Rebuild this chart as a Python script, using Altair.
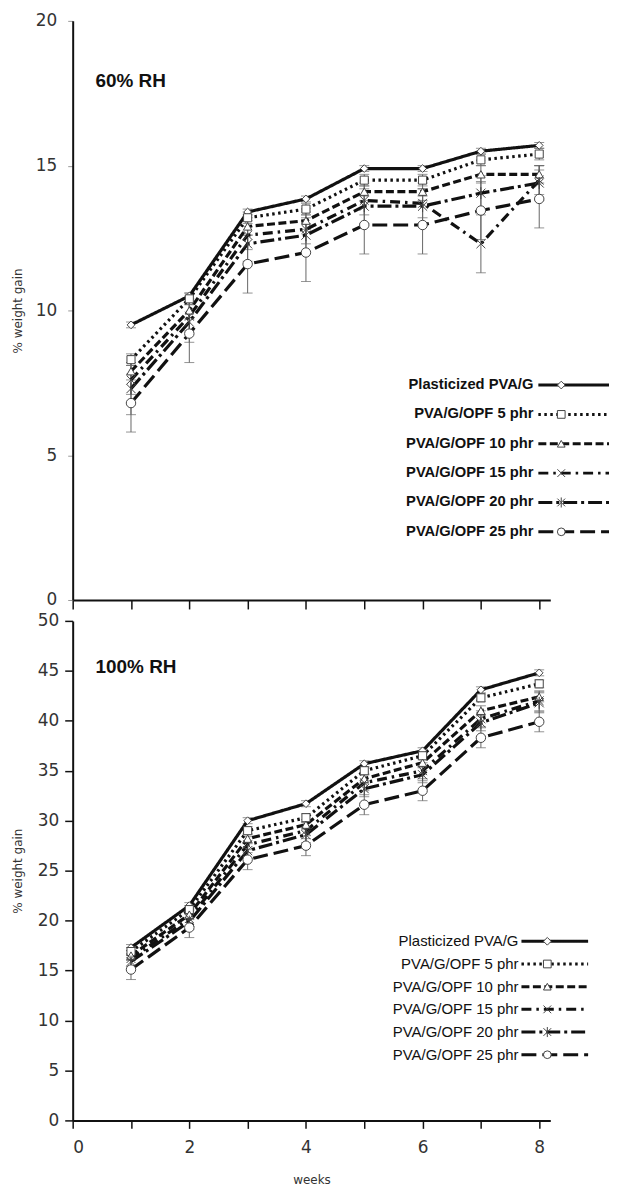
import altair as alt
import pandas as pd

weeks = [1, 2, 3, 4, 5, 6, 7, 8]
series = ["Plasticized PVA/G", "PVA/G/OPF 5 phr", "PVA/G/OPF 10 phr",
          "PVA/G/OPF 15 phr", "PVA/G/OPF 20 phr", "PVA/G/OPF 25 phr"]

# ---- 60% RH (% weight gain) ----
rh60_plast = [9.5, 10.5, 13.4, 13.85, 14.9, 14.9, 15.5, 15.7]
rh60_p5 = [8.3, 10.4, 13.2, 13.5, 14.5, 14.5, 15.2, 15.4]
rh60_p10 = [7.9, 10.0, 12.9, 13.1, 14.1, 14.1, 14.7, 14.7]
rh60_p15 = [7.6, 9.8, 12.6, 12.8, 13.8, 13.7, 12.3, 14.5]
rh60_p20 = [7.3, 9.6, 12.3, 12.6, 13.6, 13.6, 14.05, 14.4]
rh60_p25 = [6.8, 9.2, 11.6, 12.0, 12.95, 12.95, 13.45, 13.85]
rh60_err_plast = [0.1, 0.1, 0.1, 0.1, 0.1, 0.1, 0.1, 0.1]
rh60_err_p5 = [0.2, 0.2, 0.2, 0.2, 0.2, 0.2, 0.2, 0.2]
rh60_err_p10 = [0.3, 0.3, 0.3, 0.3, 0.3, 0.3, 0.3, 0.3]
rh60_err_p15 = [0.5, 0.5, 0.5, 0.5, 0.5, 0.5, 1.0, 0.5]
rh60_err_p20 = [0.9, 0.7, 0.6, 0.6, 0.6, 0.6, 0.6, 0.6]
rh60_err_p25 = [1.0, 1.0, 1.0, 1.0, 1.0, 1.0, 1.0, 1.0]

# ---- 100% RH (% weight gain) ----
rh100_plast = [17.3, 21.5, 30.0, 31.7, 35.7, 37.0, 43.1, 44.8]
rh100_p5 = [16.9, 21.1, 29.0, 30.3, 35.0, 36.5, 42.3, 43.7]
rh100_p10 = [16.5, 20.6, 28.2, 29.6, 34.2, 35.8, 41.0, 42.4]
rh100_p15 = [16.2, 20.2, 27.6, 29.0, 33.8, 35.0, 40.2, 42.0]
rh100_p20 = [15.9, 19.9, 27.0, 28.6, 33.2, 34.6, 39.8, 41.8]
rh100_p25 = [15.1, 19.3, 26.1, 27.5, 31.6, 33.0, 38.3, 39.9]
rh100_err_plast = [0.3, 0.3, 0.3, 0.3, 0.3, 0.3, 0.3, 0.3]
rh100_err_p5 = [0.4, 0.4, 0.4, 0.4, 0.4, 0.4, 0.4, 0.4]
rh100_err_p10 = [0.5, 0.5, 0.5, 0.5, 0.5, 0.5, 0.5, 0.5]
rh100_err_p15 = [0.8, 0.8, 0.8, 0.8, 0.8, 0.8, 0.8, 1.0]
rh100_err_p20 = [0.8, 0.8, 0.8, 0.8, 0.8, 0.8, 0.8, 1.0]
rh100_err_p25 = [1.0, 1.0, 1.0, 1.0, 1.0, 1.0, 1.0, 1.0]

X_PATH = "M-1,-1L1,1M-1,1L1,-1"
AST_PATH = "M-1,-1L1,1M-1,1L1,-1M0,-1.3L0,1.3"

dash_scale = alt.Scale(domain=series,
                       range=[[1, 0], [2.5, 3.5], [8, 3.5], [10, 5, 2.5, 5], [14, 4, 3, 4], [15, 6]])
shape_scale = alt.Scale(domain=series,
                        range=["diamond", "square", "triangle-up", X_PATH, AST_PATH, "circle"])

TICK_FONT = "DejaVu Sans"
LEG_FONT = "Liberation Sans"


def frame(vals, errs):
    rows = []
    for s, v, e in zip(series, vals, errs):
        for w, y, d in zip(weeks, v, e):
            rows.append(dict(week=w, value=y, lo=y - d, hi=y + d, series=s))
    return pd.DataFrame(rows)


def panel(df, width, height, ymax, xaxis, yaxis, sizes, title, title_y,
          leg_x_text, leg_y0, leg_dy, leg_x1, leg_x2, leg_xm, leg_bold, leg_size):
    xs = alt.Scale(domain=[0, 8.19], nice=False, zero=False)
    ys = alt.Scale(domain=[0, ymax], nice=False)
    size_scale = alt.Scale(domain=series, range=sizes)
    base = alt.Chart(df)
    X = alt.X("week:Q", scale=xs, axis=xaxis)
    err = base.mark_rule(color="#666", strokeWidth=1).encode(
        x=X, y=alt.Y("lo:Q", scale=ys, axis=yaxis), y2="hi:Q")
    cap_lo = base.mark_tick(orient="horizontal", size=10, thickness=1, color="#666").encode(
        x=X, y=alt.Y("lo:Q", scale=ys, axis=yaxis))
    cap_hi = base.mark_tick(orient="horizontal", size=10, thickness=1, color="#666").encode(
        x=X, y=alt.Y("hi:Q", scale=ys, axis=yaxis))
    lines = base.mark_line(color="#111", strokeWidth=3.2).encode(
        x=X, y=alt.Y("value:Q", scale=ys, axis=yaxis),
        strokeDash=alt.StrokeDash("series:N", scale=dash_scale, legend=None),
        detail="series:N")
    pts = base.mark_point(filled=True, fill="white", stroke="#444", strokeWidth=1, opacity=1).encode(
        x=X, y=alt.Y("value:Q", scale=ys, axis=yaxis),
        shape=alt.Shape("series:N", scale=shape_scale, legend=None),
        size=alt.Size("series:N", scale=size_scale, legend=None))

    leg = pd.DataFrame({"series": series})
    leg["ly"] = [leg_y0 + i * leg_dy for i in range(len(series))]
    leg["tx"] = leg_x_text
    leg["x1"] = leg_x1
    leg["x2"] = leg_x2
    leg["mx"] = leg_xm
    lb = alt.Chart(leg)
    ltext = lb.mark_text(align="right", baseline="middle", font=LEG_FONT,
                         fontWeight="bold" if leg_bold else "normal",
                         fontSize=leg_size, color="#111").encode(
        x=alt.X("tx:Q", scale=None, axis=None), y=alt.Y("ly:Q", scale=None, axis=None),
        text="series:N")
    lrule = lb.mark_rule(color="#111", strokeWidth=3).encode(
        x=alt.X("x1:Q", scale=None, axis=None), x2="x2:Q",
        y=alt.Y("ly:Q", scale=None, axis=None),
        strokeDash=alt.StrokeDash("series:N", scale=dash_scale, legend=None))
    lpt = lb.mark_point(filled=True, fill="white", stroke="#444", strokeWidth=1, opacity=1).encode(
        x=alt.X("mx:Q", scale=None, axis=None), y=alt.Y("ly:Q", scale=None, axis=None),
        shape=alt.Shape("series:N", scale=shape_scale, legend=None), size=alt.value(60))
    tdf = pd.DataFrame({"t": [title]})
    ttl = alt.Chart(tdf).mark_text(align="left", baseline="middle", font=LEG_FONT,
                                   fontWeight="bold", fontSize=19, color="#111").encode(
        x=alt.value(23), y=alt.value(title_y), text="t:N")
    layers = [err, cap_lo, cap_hi, lines, pts, ltext, lrule, lpt, ttl]
    return alt.layer(*layers).properties(width=width, height=height)


top_x = alt.Axis(values=list(range(9)), labels=False, title=None, tickSize=9, tickColor="#111",
                 tickWidth=1.5, domainColor="#111", domainWidth=2, grid=False)
top_y = alt.Axis(values=[0, 5, 10, 15, 20], tickSize=5, tickColor="#999", tickWidth=1,
                 labelFont=TICK_FONT, labelFontSize=17, labelColor="#333", labelPadding=11,
                 title="% weight gain", titleFont=TICK_FONT, titleFontSize=12,
                 titleFontWeight="normal", titleColor="#333", titleX=-48,
                 domainColor="#111", domainWidth=2, grid=False)
bot_x = alt.Axis(values=list(range(9)), labelExpr="datum.value % 2 == 0 ? datum.label : ''",
                 tickSize=8, tickWidth=1.5, tickColor="#111", labelFont=TICK_FONT, labelFontSize=17,
                 labelColor="#333", labelPadding=11, title="weeks", titleFont=TICK_FONT,
                 titleFontSize=12, titleFontWeight="normal", titleColor="#333", titlePadding=19,
                 domainColor="#111", domainWidth=2, grid=False)
bot_y = alt.Axis(values=list(range(0, 51, 5)), tickSize=8, tickWidth=1.5, tickColor="#111",
                 labelFont=TICK_FONT, labelFontSize=17, labelColor="#333", labelPadding=6,
                 title="% weight gain", titleFont=TICK_FONT, titleFontSize=12,
                 titleFontWeight="normal", titleColor="#333", titleX=-48,
                 domainColor="#111", domainWidth=2, grid=False)

df60 = frame([rh60_plast, rh60_p5, rh60_p10, rh60_p15, rh60_p20, rh60_p25],
             [rh60_err_plast, rh60_err_p5, rh60_err_p10, rh60_err_p15, rh60_err_p20, rh60_err_p25])
df100 = frame([rh100_plast, rh100_p5, rh100_p10, rh100_p15, rh100_p20, rh100_p25],
              [rh100_err_plast, rh100_err_p5, rh100_err_p10, rh100_err_p15, rh100_err_p20, rh100_err_p25])

top = panel(df60, 480, 582, 20, top_x, top_y, [60, 90, 70, 80, 80, 340], "60% RH", 60,
            463, 366, 29.5, 468, 539, 491, True, 14.8)
bottom = panel(df100, 480, 502, 50, bot_x, bot_y, [55, 80, 60, 70, 70, 160], "100% RH", 46,
               448, 322, 22.8, 451, 518, 477, False, 15)

chart = alt.vconcat(top, bottom, spacing=21, bounds="flush").properties(
    padding={"left": 4, "top": 1, "right": 0, "bottom": 0}
).configure_view(stroke=None)

chart.save("out.html", embed_options={"renderer": "svg", "actions": False})
